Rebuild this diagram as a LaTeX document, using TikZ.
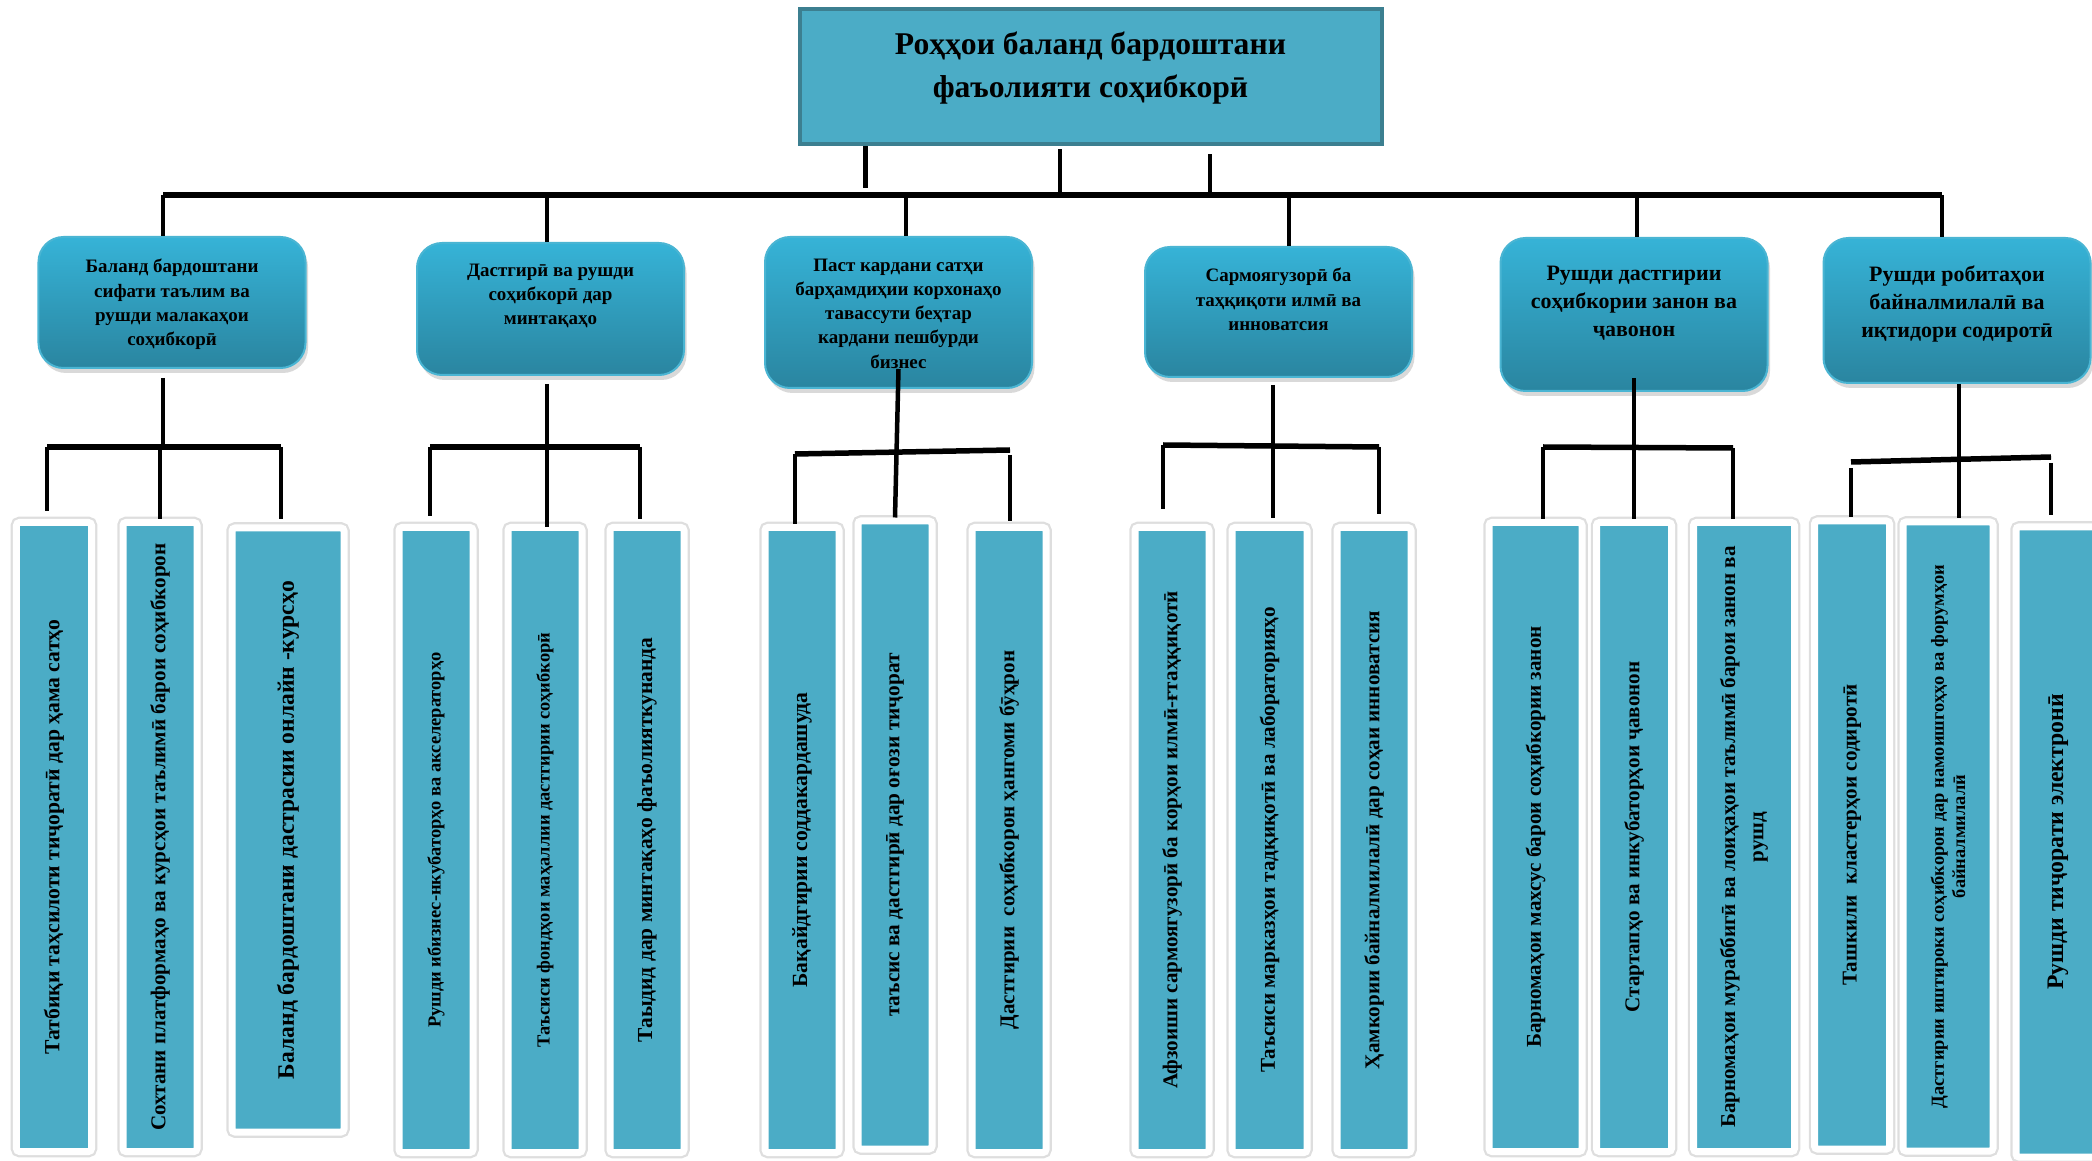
\documentclass[tikz,border=0pt]{standalone}
\usepackage{fontspec}
\setmainfont{Liberation Serif}
\usetikzlibrary{positioning,shadows}

\definecolor{headfill}{HTML}{4BACC6}
\definecolor{headedge}{HTML}{3C7F90}
\definecolor{areatop}{HTML}{36B3D7}
\definecolor{areabot}{HTML}{2A85A0}
\definecolor{areaedge}{HTML}{4AB5D3}
\definecolor{taskfill}{HTML}{4BACC6}

\tikzset{
  headbox/.style={draw=headedge, line width=0.8mm, fill=headfill, minimum width=116.4mm, minimum height=27mm, inner sep=0pt},
  headtext/.style={font=\bfseries\fontsize{18}{24.5}\selectfont, align=center, inner sep=0pt},
  areabox/.style={rounded corners=5mm, top color=areatop, bottom color=areabot, draw=areaedge, line width=0.4mm, minimum width=53.4mm, inner sep=0pt, drop shadow={opacity=0.3, shadow xshift=0.5mm, shadow yshift=-1mm}},
  areatext/.style={font=\bfseries\fontsize{10.8}{13.7}\selectfont, align=center, inner sep=0pt},
  taskbox/.style={rotate=90, preaction={draw=black!13, line width=2.3mm}, fill=taskfill, draw=white, line width=1.4mm, rounded corners=0.6mm, minimum width=125mm, minimum height=14.8mm, inner sep=0pt, align=center, font=\bfseries\fontsize{12}{14.5}\selectfont},
  link/.style={line width=0.9mm},
  rail/.style={line width=1.1mm}
}

\begin{document}
\begin{tikzpicture}[x=0.2mm,y=-0.2mm]

\useasboundingbox (0,0) rectangle (2092,1161);

\node[headbox] (head) at (1090.5,77) {};
\node[headtext, below=4.8mm of head.north] (headt) {Роҳҳои баланд бардоштани\\фаъолияти соҳибкорӣ};

\node[areabox, minimum height=26.2mm] (d1) at (172,302.5) {};
\node[areabox, minimum height=26.4mm] (d2) at (550.5,309) {};
\node[areabox, minimum height=30.2mm] (d3) at (898.5,312.5) {};
\node[areabox, minimum height=26mm] (d4) at (1278.5,312) {};
\node[areabox, minimum height=30.6mm] (d5) at (1634,314.5) {};
\node[areabox, minimum height=29mm] (d6) at (1957,310.5) {};

\node[areatext, below=4.6mm of d1.north] (d1t) {Баланд бардоштани\\сифати таълим ва\\рушди малакаҳои\\соҳибкорӣ};
\node[areatext, below=4.4mm of d2.north] (d2t) {Дастгирӣ ва рушди\\соҳибкорӣ дар\\минтақаҳо};
\node[areatext, below=4.6mm of d3.north] (d3t) {Паст кардани сатҳи\\барҳамдиҳии корхонаҳо\\тавассути беҳтар\\кардани пешбурди\\бизнес};
\node[areatext, below=4.4mm of d4.north] (d4t) {Сармоягузорӣ ба\\таҳқиқоти илмӣ ва\\инноватсия};
\node[areatext, font=\bfseries\fontsize{12.5}{16}\selectfont, below=5.8mm of d5.north] (d5t) {Рушди дастгирии\\соҳибкории занон ва\\ҷавонон};
\node[areatext, font=\bfseries\fontsize{12.5}{16}\selectfont, below=5.6mm of d6.north] (d6t) {Рушди робитаҳои\\байналмилалӣ ва\\иқтидори содиротӣ};

\node[taskbox, minimum width=125.8mm, minimum height=15mm, font=\bfseries\fontsize{12.3}{14.5}\selectfont] (d1a) at (54,837) {Татбиқи таҳсилоти тиҷоратӣ дар ҳама сатҳо};
\node[taskbox, minimum width=125.8mm] (d1b) at (160,837) {Сохтани платформаҳо ва курсҳои таълимӣ барои соҳибкорон};
\node[taskbox, minimum width=120.8mm, minimum height=22.4mm, font=\bfseries\fontsize{13.4}{15}\selectfont] (d1c) at (288,830) {Баланд бардоштани дастрасии онлайн -курсҳо};

\node[taskbox, font=\bfseries\fontsize{10.5}{13}\selectfont] (d2a) at (436,840) {Рушди ибизнес-нкубаторҳо ва акселераторҳо};
\node[taskbox, font=\bfseries\fontsize{10.5}{13}\selectfont] (d2b) at (545,840) {Таъсиси фондҳои маҳаллии дастгирии соҳибкорӣ};
\node[taskbox, font=\bfseries\fontsize{12.2}{14.5}\selectfont] (d2c) at (647,840) {Таыдид дар минтақаҳо фаъолияткунанда};

\node[taskbox, font=\bfseries\fontsize{12.3}{15}\selectfont] (d3a) at (802,840) {Бақайдгирии соддакардашуда};
\node[taskbox, minimum width=125.6mm, font=\bfseries\fontsize{12.1}{14}\selectfont] (d3b) at (895,835) {таъсис ва дастгирӣ дар оғози тиҷорат};
\node[taskbox] (d3c) at (1009,840) {Дастгирии\ \ соҳибкорон ҳангоми бӯҳрон};

\node[taskbox] (d4a) at (1172,840) {Афзоиши сармоягузорӣ ба корҳои илмӣ-ғтаҳқиқотӣ};
\node[taskbox, minimum height=15mm] (d4b) at (1269.5,840) {Таъсиси марказҳои тадқиқотӣ ва лабораторияҳо};
\node[taskbox] (d4c) at (1374,840) {Ҳамкории байналмилалӣ дар соҳаи инноватсия};

\node[taskbox, minimum width=125.8mm, minimum height=18.6mm] (d5a) at (1535.5,837) {Барномаҳои махсус барои соҳибкории занон};
\node[taskbox, minimum width=125.8mm, minimum height=15mm] (d5b) at (1634,837) {Стартапҳо ва инкубаторҳои ҷавонон};
\node[taskbox, minimum width=125.8mm, minimum height=20.2mm, font=\bfseries\fontsize{12}{16}\selectfont] (d5c) at (1744,837) {Барномаҳои мураббигӣ ва лоиҳаҳои таълимӣ барои занон ва\\рушд};

\node[taskbox, minimum width=125.6mm, minimum height=15mm] (d6a) at (1852,835) {Ташкили\ \ кластерҳои содиротӣ};
\node[taskbox, minimum width=125.8mm, minimum height=18mm, font=\bfseries\fontsize{10.5}{12}\selectfont] (d6b) at (1948,836.5) {Дастгирии иштироки соҳибкорон дар намоишгоҳҳо ва форумҳои\\байналмилалӣ};
\node[taskbox, minimum width=126mm, minimum height=16.8mm, font=\bfseries\fontsize{13.5}{16}\selectfont] (d6c) at (2058,842) {Рушди тиҷорати электронӣ};

% upper level
\coordinate (t1) at (163,195);
\coordinate (t2) at (547,195);
\coordinate (t3) at (906,195);
\coordinate (t4) at (1289,195);
\coordinate (t5) at (1637,195);
\coordinate (t6) at (1942,195);
\draw[rail] (t1) -- (t6);
\draw[link] ([xshift=-45mm]head.south) -- ++(0,42);
\draw[link] ([xshift=-6.1mm,yshift=-0.6mm]head.south) -- ([xshift=-6.1mm]head.south |- t1);
\draw[link] ([xshift=23.9mm,yshift=-1.6mm]head.south) -- ([xshift=23.9mm]head.south |- t1);
\draw[link] (t1) -- (t1 |- d1.north);
\draw[link] (t2) -- (t2 |- d2.north);
\draw[link] (t3) -- (t3 |- d3.north);
\draw[link] (t4) -- (t4 |- d4.north);
\draw[link] (t5) -- (t5 |- d5.north);
\draw[link] (t6) -- (t6 |- d6.north);

% group 1
\coordinate (j1l) at (47,447);
\coordinate (j1m) at (163,447);
\coordinate (j1r) at (281,447);
\draw[link] ([yshift=-1.8mm]d1.south -| j1m) -- (j1m);
\draw[rail] (j1l) -- (j1r);
\draw[link, shorten >=1.6mm] (j1l) -- (j1l |- d1a.east);
\draw[link] (j1l -| d1b.east) -- (d1b.east);
\draw[link, shorten >=1mm] (j1r) -- (j1r |- d1c.east);

% group 2
\coordinate (j2l) at (430,447);
\coordinate (j2r) at (640,447);
\draw[link] ([yshift=-1.6mm]d2.south -| 547,0) -- (547,527);
\draw[rail] (j2l) -- (j2r);
\draw[link, shorten >=1.6mm] (j2l) -- (j2l |- d2a.east);
\draw[link, shorten >=1mm] (j2r) -- (j2r |- d2c.east);

% group 3
\coordinate (j3l) at (795,454);
\coordinate (j3r) at (1010,450);
\draw[link] ([yshift=4mm]d3.south) -- (d3b.east);
\draw[rail] (j3l) -- (j3r);
\draw[link] (j3l) -- (j3l |- d3a.east);
\draw[link, shorten >=0.6mm] ([yshift=-1mm]j3r) -- (j3r |- d3c.east);

% group 4
\coordinate (j4l) at (1163,445);
\coordinate (j4m) at (1273,446);
\coordinate (j4r) at (1379,447);
\draw[link, shorten >=1.2mm] ([yshift=-1.4mm]d4.south -| j4m) -- (j4m |- d4b.east);
\draw[rail] (j4l) -- (j4r);
\draw[link, shorten >=3mm] (j4l) -- (j4l |- d4a.east);
\draw[link, shorten >=2mm] (j4r) -- (j4r |- d4c.east);

% group 5
\coordinate (j5l) at (1543,447);
\coordinate (j5r) at (1733,448);
\draw[link] ([yshift=2.8mm]d5.south) -- (d5b.east);
\draw[rail] (j5l) -- (j5r);
\draw[link] (j5l) -- (j5l |- d5a.east);
\draw[link] (j5r) -- (j5r |- d5c.east);

% group 6
\coordinate (j6l) at (1851,462);
\coordinate (j6m) at (1959,460);
\coordinate (j6r) at (2051,457);
\draw[link] (d6.south -| j6m) -- (j6m |- d6b.east);
\draw[rail] (j6l) -- (j6r);
\draw[link] ([yshift=-1.2mm]j6l) -- (j6l |- d6a.east);
\draw[link, shorten >=1.6mm] ([yshift=-1.2mm]j6r) -- (j6r |- d6c.east);

\end{tikzpicture}
\end{document}
